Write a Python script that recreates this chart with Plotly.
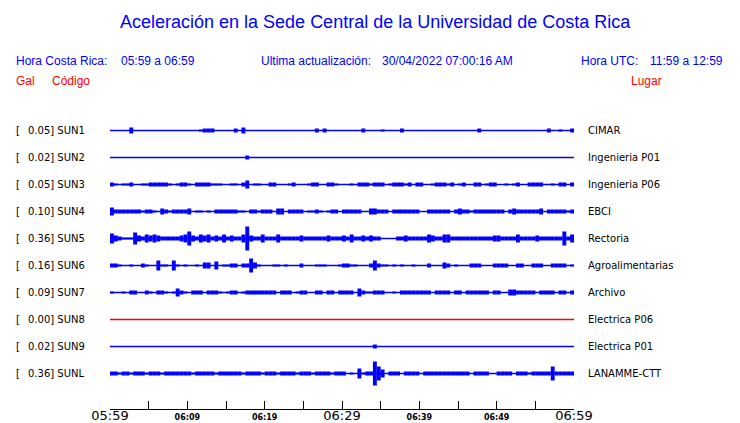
import plotly.graph_objects as go

# ---------------- data ----------------
codes = ["SUN1", "SUN2", "SUN3", "SUN4", "SUN5", "SUN6", "SUN7", "SUN8", "SUN9", "SUNL"]
gal_max = ["0.05", "0.02", "0.05", "0.10", "0.36", "0.16", "0.09", "0.00", "0.02", "0.36"]
places = ["CIMAR", "Ingenieria P01", "Ingenieria P06", "EBCI", "Rectoria",
          "Agroalimentarias", "Archivo", "Electrica P06", "Electrica P01", "LANAMME-CTT"]
tick_minutes = [0, 5, 10, 15, 20, 25, 30, 35, 40, 45, 50, 55, 60]
tick_labels = ["05:59", "", "06:09", "", "06:19", "", "06:29", "", "06:39", "", "06:49", "", "06:59"]
big_labels = ["05:59", "06:29", "06:59"]

# envelope amplitude (half-height, px) of each trace, one value per 30 s (05:59 -> 06:59)
sun1 = [0,0,0,0,0,3,0,0,0,0, 0,0,0,0,0,0,0,0,0,0, 0,0,0,1,2,2,2,0,0,0, 0,0,2,0,3,0,0,0,0,0,
        0,0,0,0,0,0,0,0,0,0, 0,0,0,2,0,2,0,0,0,0, 0,0,0,0,0,2,0,0,0,0, 1,0,0,0,0,2,0,0,0,0,
        0,0,0,0,0,0,0,0,0,0, 0,0,0,0,0,2,0,0,0,0, 0,0,0,0,0,0,0,0,0,0, 0,0,0,2,0,0,1,0,0,2]
sun2 = [0,0,0,0,0,0,0,0,0,0, 0,0,0,0,0,0,0,0,0,0, 0,0,0,0,0,0,0,0,0,0, 0,0,0,0,0,2,0,0,0,0,
        0,0,0,0,0,0,0,0,0,0, 0,0,0,0,0,0,0,0,0,0, 0,0,0,0,0,0,0,0,0,0, 0,0,0,0,0,0,0,0,0,0,
        0,0,0,0,0,0,0,0,0,0, 0,0,0,0,0,0,0,0,0,0, 0,0,0,0,0,0,0,0,0,0, 0,0,0,0,0,0,0,0,0,0]
sun3 = [2,1,0,1,1,2,0,0,1,1, 2,2,2,2,2,1,0,1,2,2, 1,0,2,2,2,2,1,1,1,0, 0,1,1,0,2,4,0,1,1,0,
        0,2,2,0,0,0,1,2,0,0, 0,1,2,2,0,0,2,2,1,0, 0,0,1,0,2,2,2,1,2,2, 2,0,1,2,2,2,1,2,0,2,
        2,0,0,1,2,2,2,1,2,0, 1,2,0,0,2,2,0,1,2,2, 0,0,1,0,1,2,0,0,2,2, 2,2,0,0,1,0,2,2,0,2]
sun4 = [4,2,2,2,2,2,2,2,1,2, 2,1,0,3,2,1,2,2,2,2, 3,0,1,1,0,1,0,2,2,2, 2,2,2,1,1,0,2,2,1,2,
        2,2,0,3,3,0,2,2,2,2, 0,1,1,2,1,0,1,2,2,0, 2,2,2,2,2,0,0,3,3,2, 2,2,0,2,2,2,2,2,2,2,
        0,0,2,2,2,2,2,2,0,2, 3,2,2,1,2,2,2,2,2,2, 2,2,0,2,3,2,2,2,2,2, 2,3,0,2,2,2,2,2,1,2]
sun5 = [5,3,2,1,1,1,6,3,2,4, 3,4,3,2,2,2,2,2,3,4, 7,3,2,4,3,4,2,3,2,4, 2,3,2,2,4,12,3,2,2,4,
        2,2,2,4,2,2,2,2,2,3, 2,2,2,2,2,2,3,2,2,2, 3,2,4,2,2,3,2,3,2,2, 0,0,0,0,2,2,3,2,2,2,
        2,2,4,3,2,2,4,4,2,2, 2,2,2,2,2,2,2,2,2,3, 3,2,2,2,2,4,2,2,2,2, 3,2,2,2,2,2,2,7,2,4]
sun6 = [2,2,1,0,0,1,0,0,2,1, 0,0,5,1,1,0,5,1,0,1, 0,0,1,0,3,3,0,4,0,1, 1,2,2,0,2,2,7,3,1,0,
        0,0,1,1,0,1,0,0,0,2, 0,0,0,1,1,1,0,0,0,1, 2,2,1,1,0,0,0,2,5,2, 1,1,0,1,0,1,0,0,1,0,
        0,0,2,0,0,0,3,2,0,1, 0,0,0,2,2,2,0,0,0,2, 2,2,2,0,0,2,2,0,0,2, 2,2,0,0,2,2,2,2,0,1]
sun7 = [1,0,0,1,0,2,2,0,0,2, 1,0,2,2,1,0,1,4,2,1, 0,2,2,2,0,2,2,2,1,0, 1,2,2,0,1,2,2,2,2,2,
        2,2,2,0,2,2,2,0,1,2, 2,0,0,2,2,0,2,2,0,2, 2,2,2,0,4,2,1,1,2,2, 2,0,0,1,0,2,2,2,2,2,
        2,2,2,0,2,2,2,2,0,2, 2,0,2,2,2,2,2,2,0,2, 2,0,0,3,3,2,2,2,2,2, 0,2,2,2,2,0,2,2,0,2]
sun8 = [0,0,0,0,0,0,0,0,0,0, 0,0,0,0,0,0,0,0,0,0, 0,0,0,0,0,0,0,0,0,0, 0,0,0,0,0,0,0,0,0,0,
        0,0,0,0,0,0,0,0,0,0, 0,0,0,0,0,0,0,0,0,0, 0,0,0,0,0,0,0,0,0,0, 0,0,0,0,0,0,0,0,0,0,
        0,0,0,0,0,0,0,0,0,0, 0,0,0,0,0,0,0,0,0,0, 0,0,0,0,0,0,0,0,0,0, 0,0,0,0,0,0,0,0,0,0]
sun9 = [0,0,0,0,0,0,0,0,0,0, 0,0,0,0,0,0,0,0,0,0, 0,0,0,0,0,0,0,0,0,0, 0,0,0,0,0,0,0,0,0,0,
        0,0,0,0,0,0,0,0,0,0, 0,0,0,0,0,0,0,0,0,0, 0,0,0,0,0,0,0,0,2,0, 0,0,0,0,0,0,0,0,0,0,
        0,0,0,0,0,0,0,0,0,0, 0,0,0,0,0,0,0,0,0,0, 0,0,0,0,0,0,0,0,0,0, 0,0,0,0,0,0,0,0,0,0]
sunl = [2,2,1,2,2,1,2,2,2,1, 2,2,2,1,2,2,2,2,2,2, 2,1,2,2,2,2,2,1,2,2, 2,2,2,2,1,2,2,2,2,1,
        2,2,2,1,2,2,2,2,1,2, 2,2,1,2,2,2,2,1,2,2, 2,0,1,0,5,1,2,2,12,7, 4,0,2,2,2,0,2,2,2,2,
        0,2,2,2,2,2,2,2,2,2, 2,2,2,0,2,2,2,2,0,0, 2,2,2,2,0,2,2,2,1,2, 2,2,2,2,7,2,2,2,2,2]
amplitudes = [sun1, sun2, sun3, sun4, sun5, sun6, sun7, sun8, sun9, sunl]
trace_colors = ["#0000ff"] * 7 + ["#ff0000"] + ["#0000ff"] * 2

# ---------------- layout constants (window pixels) ----------------
WIN_W, WIN_H = 740, 423
OFF = 8                      # default page body margin
W, H = WIN_W - OFF, WIN_H - OFF
PLOT_X0, PLOT_X1 = 110, 574   # window px of plot area
PLOT_Y0, PLOT_Y1 = 116, 409
L = PLOT_X0 - OFF
T = PLOT_Y0 - OFF
PW = PLOT_X1 - PLOT_X0
PH = PLOT_Y1 - PLOT_Y0
R = W - L - PW
B = H - T - PH
ROW_PX = 27.0
Y_TOP = -(130.5 - PLOT_Y0) / ROW_PX
Y_BOT = Y_TOP + PH / ROW_PX


def px_x(p):
    return (p - PLOT_X0) / PW


def px_y(p):
    return (PLOT_Y1 - p) / PH


BLUE = "#0000ff"
RED = "#ff0000"
MONO = "DejaVu Sans"
SANS = "Liberation Sans, Arial"

fig = go.Figure()
n = len(sun1)
t_step = 60.0 / n
times = [(i + 0.5) * t_step for i in range(n)]

for row, (amp, col) in enumerate(zip(amplitudes, trace_colors)):
    fig.add_trace(go.Scatter(
        x=[tick_minutes[0], tick_minutes[-1]], y=[row, row], mode="lines",
        line=dict(color=col, width=1.3), hoverinfo="skip", showlegend=False))
    fig.add_trace(go.Scatter(
        x=times, y=[row] * n, mode="markers", marker=dict(size=0.1, color=col, opacity=0),
        error_y=dict(type="data", array=[a / ROW_PX for a in amp], symmetric=True,
                     color=col, thickness=3.9, width=0),
        hoverinfo="skip", showlegend=False))

ticktext = []
for lab in tick_labels:
    if lab in big_labels:
        ticktext.append('<span style="font-size:13px">' + lab + '</span>')
    elif lab:
        ticktext.append("<b>" + lab + "</b>")
    else:
        ticktext.append("")

ann = []
for row, (code, g, place) in enumerate(zip(codes, gal_max, places)):
    ann.append(dict(x=px_x(14), y=row, xref="paper", yref="y", text="[", showarrow=False,
                    xanchor="left", yanchor="middle", font=dict(family=MONO, size=10, color="black")))
    ann.append(dict(x=px_x(26), y=row, xref="paper", yref="y", text=g + "] " + code, showarrow=False,
                    xanchor="left", yanchor="middle", font=dict(family=MONO, size=10, color="black")))
    ann.append(dict(x=px_x(586), y=row, xref="paper", yref="y", text=place, showarrow=False,
                    xanchor="left", yanchor="middle", font=dict(family=MONO, size=10, color="black")))


def head(text, x, y, color, size=12, anchor="left"):
    ann.append(dict(x=px_x(x), y=px_y(y), xref="paper", yref="paper", text=text, showarrow=False,
                    xanchor=anchor, yanchor="middle", font=dict(family=SANS, size=size, color=color)))


head("Aceleración en la Sede Central de la Universidad de Costa Rica", 375, 22, BLUE, 18, "center")
head("Hora Costa Rica:", 14, 61, BLUE)
head(tick_labels[0] + " a " + tick_labels[-1], 119, 61, BLUE)
head("Ultima actualización:", 259, 61, BLUE)
head("30/04/2022 07:00:16 AM", 380, 61, BLUE)
head("Hora UTC:", 579, 61, BLUE)
head("11:59 a 12:59", 725, 61, BLUE, anchor="right")
head("Gal", 14, 81, RED)
head("Código", 50, 81, RED)
head("Lugar", 664, 81, RED, anchor="right")

fig.update_layout(
    width=W, height=H, margin=dict(l=L, r=R, t=T, b=B, autoexpand=False),
    paper_bgcolor="white", plot_bgcolor="white", showlegend=False,
    annotations=ann,
    xaxis=dict(range=[tick_minutes[0], tick_minutes[-1]], tickmode="array", tickvals=tick_minutes,
               ticktext=ticktext, ticks="inside", ticklen=8, tickwidth=1, tickcolor="black",
               showline=True, linecolor="black", linewidth=1, showgrid=False, zeroline=False,
               tickfont=dict(family=MONO, size=8, color="black"), automargin=False, fixedrange=True),
    yaxis=dict(range=[Y_BOT, Y_TOP], showticklabels=False, showgrid=False, zeroline=False,
               showline=False, ticks="", automargin=False, fixedrange=True),
)

fig.write_html("out.html")
